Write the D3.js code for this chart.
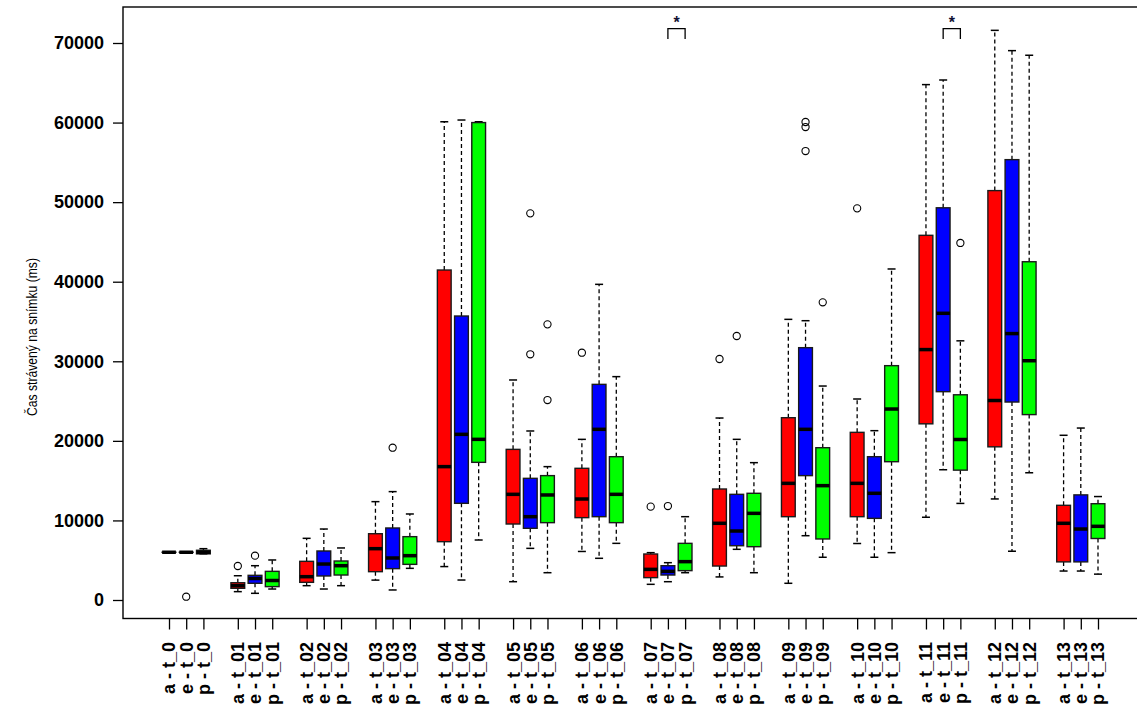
<!DOCTYPE html>
<html><head><meta charset="utf-8">
<script src="https://cdn.jsdelivr.net/npm/d3@7"></script>
<style>
html,body{margin:0;padding:0;background:#fff;}
svg{display:block;}
</style></head>
<body>
<svg id="chart" width="1137" height="711"></svg>
<script>
// ---- data ----
const categories = ["t_0","t_01","t_02","t_03","t_04","t_05","t_06","t_07","t_08","t_09","t_10","t_11","t_12","t_13"];
const seriesNames = ["a","e","p"];
const yTicks = [0,10000,20000,30000,40000,50000,60000,70000];

// series a (red)
const aLow  = [6000,1050,1800,2500,4200,2300,6100,1970,2900,2100,7100,10400,12700,3640];
const aQ1   = [6000,1470,2220,3560,7330,9550,10350,2810,4270,10470,10470,22140,19250,4790];
const aMed  = [6000,1800,2930,6450,16760,13280,12690,3850,9640,14660,14660,31470,25070,9640];
const aQ3   = [6000,2170,4860,8330,41470,18930,16550,5780,13950,22910,21070,45830,51450,11900];
const aHigh = [6000,3050,7750,12360,60100,27650,20190,5950,22870,35270,25260,64770,71590,20700];
const aOut  = [[1,4270],[6,31080],[7,11730],[8,30290],[10,49220]];

// series e (blue)
const eLow  = [6000,840,1380,1260,2510,6490,5240,2300,6370,8080,5370,16370,6130,3640];
const eQ1   = [6000,2100,3020,3940,12150,9010,10470,3140,6820,15630,10260,26180,24880,4790];
const eMed  = [6000,2700,4520,5280,20820,10470,21450,3600,8670,21450,13410,36030,33480,8920];
const eQ3   = [6000,3100,6160,9050,35690,15290,27100,4310,13280,31710,18010,49290,55340,13210];
const eHigh = [6000,4310,8920,13620,60320,21240,39670,4690,20190,35100,21280,65350,69040,21610];
const eOut  = [[0,415],[1,5570],[3,19140],[5,48590],[5,30880],[7,11810],[8,33180],[9,56420],[9,59440],[9,60070]];

// series p (green)
const pLow  = [5800,1380,1800,3980,7540,3430,7120,3430,3430,5370,5950,12140,15990,3250];
const pQ1   = [5800,1680,3140,4480,17300,9720,9720,3690,6700,7670,17380,16320,23300,7730];
const pMed  = [6000,2450,4310,5570,20190,13200,13280,4820,10890,14370,24000,20170,30070,9260];
const pQ3   = [6250,3600,4900,7960,60000,15630,18010,7120,13410,19140,29450,25790,42510,12100];
const pHigh = [6450,5030,6540,10810,60100,16760,28070,10470,17260,26890,41600,32570,68460,13000];
const pOut  = [[5,34640],[5,25130],[9,37410],[11,44870]];

// significance brackets (category index, from series, to series)
const sigCats  = [7, 11];
const sigFrom  = ["e","e"];
const sigTo    = ["p","p"];
const sigLabel = ["*","*"];

// ---- styles ----
const colors = {a:"#FF0000", e:"#0000FF", p:"#00FF00"};
const FONT = "'Liberation Sans', Arial, Helvetica, sans-serif";

const stats = {
  a:{low:aLow,q1:aQ1,med:aMed,q3:aQ3,high:aHigh,out:aOut},
  e:{low:eLow,q1:eQ1,med:eMed,q3:eQ3,high:eHigh,out:eOut},
  p:{low:pLow,q1:pQ1,med:pMed,q3:pQ3,high:pHigh,out:pOut}
};

const svg = d3.select("#chart");
const frame = {left:123, right:1140, top:7, bottom:618.5};

const pos = (ci, si) => 4*ci + si + 1;
const x = d3.scaleLinear().domain([1,55]).range([169,1098]);
const y = d3.scaleLinear().domain([0,70000]).range([600,43]);
const unit = x(2)-x(1);
const bw = 0.8*unit;
const capHalf = 4;

// boxes
const boxes = [];
seriesNames.forEach((s,si)=>{
  categories.forEach((c,ci)=>{
    const st = stats[s];
    boxes.push({s, ci, p:pos(ci,si), low:st.low[ci], q1:st.q1[ci], med:st.med[ci], q3:st.q3[ci], high:st.high[ci]});
  });
});

const g = svg.append("g");
const bg = g.selectAll("g.box").data(boxes).join("g").attr("class","box");

// whiskers (dashed)
bg.append("line")
  .attr("x1",d=>x(d.p)).attr("x2",d=>x(d.p))
  .attr("y1",d=>y(d.q3)).attr("y2",d=>y(d.high))
  .attr("stroke","#000").attr("stroke-width",1.3).attr("stroke-dasharray","4,3");
bg.append("line")
  .attr("x1",d=>x(d.p)).attr("x2",d=>x(d.p))
  .attr("y1",d=>y(d.q1)).attr("y2",d=>y(d.low))
  .attr("stroke","#000").attr("stroke-width",1.3).attr("stroke-dasharray","4,3");
// caps
bg.append("line")
  .attr("x1",d=>x(d.p)-capHalf).attr("x2",d=>x(d.p)+capHalf)
  .attr("y1",d=>y(d.high)).attr("y2",d=>y(d.high))
  .attr("stroke","#000").attr("stroke-width",1.5);
bg.append("line")
  .attr("x1",d=>x(d.p)-capHalf).attr("x2",d=>x(d.p)+capHalf)
  .attr("y1",d=>y(d.low)).attr("y2",d=>y(d.low))
  .attr("stroke","#000").attr("stroke-width",1.5);
// box
bg.append("rect")
  .attr("x",d=>x(d.p)-bw/2).attr("width",bw)
  .attr("y",d=>y(d.q3)).attr("height",d=>Math.max(0.01,y(d.q1)-y(d.q3)))
  .attr("fill",d=>colors[d.s]).attr("stroke","#1a1a1a").attr("stroke-width",1.4);
// median
bg.append("line")
  .attr("x1",d=>x(d.p)-bw/2).attr("x2",d=>x(d.p)+bw/2)
  .attr("y1",d=>y(d.med)).attr("y2",d=>y(d.med))
  .attr("stroke","#000").attr("stroke-width",3.5);

// outliers
const outs = [];
seriesNames.forEach((s,si)=>{
  stats[s].out.forEach(([ci,v])=>outs.push({p:pos(ci,si), v}));
});
g.selectAll("circle.out").data(outs).join("circle").attr("class","out")
  .attr("cx",d=>x(d.p)).attr("cy",d=>y(d.v)).attr("r",3.6)
  .attr("fill","none").attr("stroke","#000").attr("stroke-width",1.1);

// significance brackets
sigCats.forEach((ci,k)=>{
  const x1 = x(pos(ci, seriesNames.indexOf(sigFrom[k])));
  const x2 = x(pos(ci, seriesNames.indexOf(sigTo[k])));
  const yt = y(71800), yb = y(70500);
  svg.append("path")
    .attr("d",`M${x1},${yb}L${x1},${yt}L${x2},${yt}L${x2},${yb}`)
    .attr("fill","none").attr("stroke","#000").attr("stroke-width",1.3);
  svg.append("text").attr("x",(x1+x2)/2).attr("y",yt-1)
    .attr("text-anchor","middle").attr("font-family",FONT).attr("font-weight","bold")
    .attr("font-size",16).attr("fill","#111133").text(sigLabel[k]);
});

// frame
svg.append("rect").attr("x",frame.left).attr("y",frame.top)
  .attr("width",frame.right-frame.left).attr("height",frame.bottom-frame.top)
  .attr("fill","none").attr("stroke","#000").attr("stroke-width",1.4);

// y axis
const yAxis = svg.append("g").attr("transform",`translate(${frame.left},0)`)
  .call(d3.axisLeft(y).tickValues(yTicks).tickSize(10).tickPadding(9).tickFormat(d3.format("d")));
yAxis.select(".domain").remove();
yAxis.selectAll("line").attr("stroke","#000").attr("stroke-width",1.3);
yAxis.selectAll("text").attr("font-family",FONT).attr("font-weight","bold")
  .attr("font-size",18).attr("fill","#000");

// x axis
const tickPositions = [], tickLabels = [];
categories.forEach((c,ci)=>seriesNames.forEach((s,si)=>{tickPositions.push(pos(ci,si)); tickLabels.push(`${s} - ${c}`);}));
const labelMap = new Map(tickPositions.map((p,i)=>[p,tickLabels[i]]));
const xAxis = svg.append("g").attr("transform",`translate(0,${frame.bottom})`)
  .call(d3.axisBottom(x).tickValues(tickPositions).tickSize(11).tickSizeOuter(0).tickFormat(p=>labelMap.get(p)));
xAxis.select(".domain").remove();
xAxis.selectAll("line").attr("stroke","#000").attr("stroke-width",1.3);
xAxis.selectAll("text")
  .attr("transform","rotate(-90)")
  .attr("x",-23.5).attr("y",0).attr("dy","0.33em")
  .attr("text-anchor","end")
  .attr("font-family",FONT).attr("font-weight","bold").attr("font-size",18).attr("fill","#000");

// y title
svg.append("text")
  .attr("transform","translate(37,337) rotate(-90)")
  .attr("text-anchor","middle")
  .attr("font-family","'Liberation Sans Narrow', 'Arial Narrow', 'Liberation Sans', Arial, sans-serif")
  .attr("font-size",14).attr("fill","#000")
  .attr("textLength",158).attr("lengthAdjust","spacingAndGlyphs")
  .text("Čas strávený na snímku (ms)");
</script>
</body></html>
